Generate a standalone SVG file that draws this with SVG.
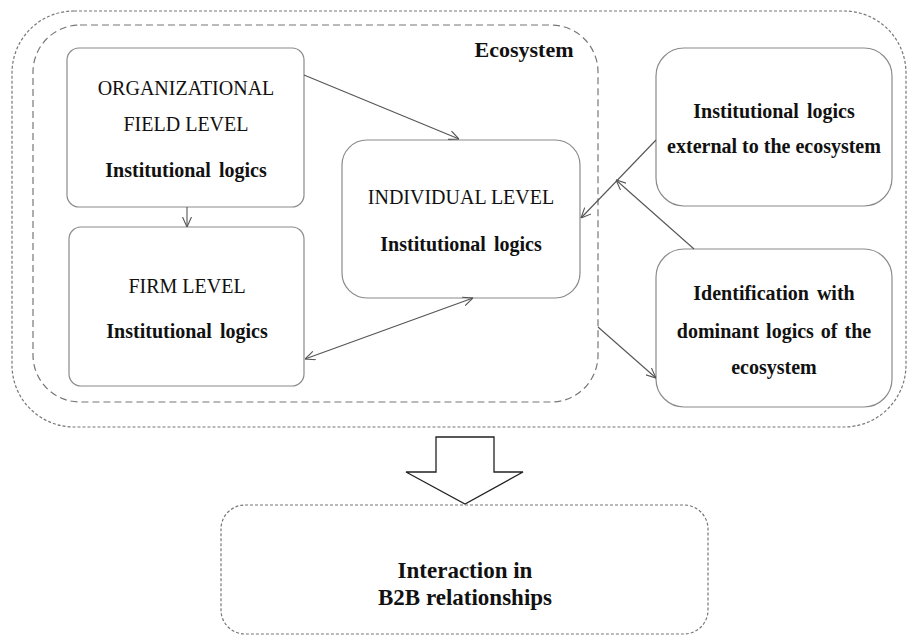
<svg xmlns="http://www.w3.org/2000/svg" width="908" height="636" viewBox="0 0 908 636">
<defs>
<style>
.box{fill:#fff;stroke:#8a8a8a;stroke-width:1.2}
.dash-fine{fill:none;stroke:#777;stroke-width:1.2;stroke-dasharray:3 2}
.dash-long{fill:none;stroke:#777;stroke-width:1.2;stroke-dasharray:7 4}
.conn{fill:none;stroke:#555;stroke-width:1.1}
text{font-family:"Liberation Serif","Times New Roman",serif;font-size:20px;fill:#111;text-anchor:middle}
.b{font-weight:bold}
</style>
<marker id="ah" viewBox="0 0 10 10" refX="10" refY="5" markerWidth="10" markerHeight="10" markerUnits="userSpaceOnUse" orient="auto-start-reverse">
<path d="M0,0.5 L10,5 L0,9.5" fill="none" stroke="#555" stroke-width="1.1"/>
</marker>
</defs>

<g id="outer-frame">
<rect class="dash-fine" x="12" y="11" width="894" height="416" rx="62" ry="62"/>
</g>
<g id="ecosystem">
<rect class="dash-long" x="33" y="25" width="565" height="377" rx="47" ry="47"/>
<text class="b" x="524" y="57" style="font-size:22px">Ecosystem</text>
</g>

<g id="org-field">
<rect class="box" x="67" y="48" width="237" height="159" rx="12" ry="12"/>
<text x="186" y="95">ORGANIZATIONAL</text>
<text x="186" y="131">FIELD LEVEL</text>
<text class="b" x="186" y="177" word-spacing="3">Institutional logics</text>
</g>

<g id="firm">
<rect class="box" x="69" y="227" width="235" height="159" rx="12" ry="12"/>
<text x="187" y="293">FIRM LEVEL</text>
<text class="b" x="187" y="338" word-spacing="3">Institutional logics</text>
</g>

<g id="individual">
<rect class="box" x="342" y="140" width="238" height="158" rx="25" ry="25"/>
<text x="461" y="204">INDIVIDUAL LEVEL</text>
<text class="b" x="461" y="251" word-spacing="3">Institutional logics</text>
</g>

<g id="external">
<rect class="box" x="656" y="48" width="236" height="158" rx="28" ry="28"/>
<text class="b" x="774" y="118" word-spacing="3">Institutional logics</text>
<text class="b" x="774" y="153">external to the ecosystem</text>
</g>

<g id="identification">
<rect class="box" x="656" y="249" width="236" height="158" rx="28" ry="28"/>
<text class="b" x="774" y="300" word-spacing="3">Identification with</text>
<text class="b" x="774" y="338" word-spacing="2">dominant logics of the</text>
<text class="b" x="774" y="374">ecosystem</text>
</g>

<g id="connectors">
<line class="conn" x1="304" y1="75" x2="459" y2="139" marker-end="url(#ah)"/>
<line class="conn" x1="187" y1="207" x2="187" y2="227" marker-end="url(#ah)"/>
<line class="conn" x1="305" y1="359" x2="473" y2="298" marker-start="url(#ah)" marker-end="url(#ah)"/>
<line class="conn" x1="656" y1="140" x2="581" y2="218" marker-end="url(#ah)"/>
<line class="conn" x1="694" y1="249" x2="616" y2="180" marker-end="url(#ah)"/>
<line class="conn" x1="598" y1="327" x2="656" y2="378" marker-end="url(#ah)"/>
</g>

<g id="block-arrow">
<path d="M436,437 L494,437 L494,472 L523,472 L465,504 L406,472 L436,472 Z" fill="#fff" stroke="#222" stroke-width="1.3"/>
</g>

<g id="b2b">
<rect class="dash-fine" x="221" y="505" width="487" height="129" rx="24" ry="24"/>
<text class="b" x="465" y="578" style="font-size:23px">Interaction in</text>
<text class="b" x="465" y="605" style="font-size:23px">B2B relationships</text>
</g>
</svg>
